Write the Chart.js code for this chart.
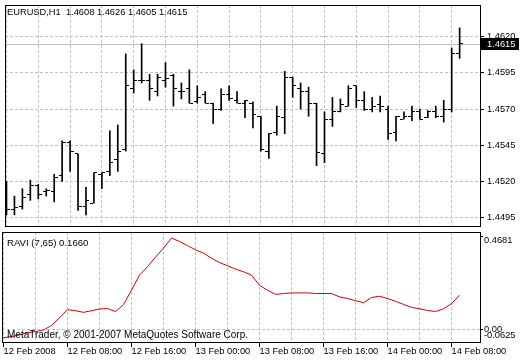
<!DOCTYPE html>
<html>
<head>
<meta charset="utf-8">
<script src="https://cdn.jsdelivr.net/npm/chart.js@4.4.1/dist/chart.umd.min.js"></script>
<style>
  html, body { margin: 0; padding: 0; background: #fff; }
  #wrap { position: relative; width: 520px; height: 360px; background: #fff; }
  canvas { position: absolute; left: 0; }
  #priceChart { top: 0; }
  #raviChart { top: 232px; }
</style>
</head>
<body>
<div id="wrap">
  <canvas id="priceChart" width="520" height="232"></canvas>
  <canvas id="raviChart" width="520" height="128"></canvas>
</div>
<script>
// EURUSD H1 bars, 12 Feb 2008 00:00 .. 14 Feb 2008 09:00
const symbol = 'EURUSD,H1';
const opens = [
  1.4510, 1.4501, 1.4503, 1.4511, 1.4517, 1.4513, 1.4513, 1.4524, 1.4547, 1.4539,
  1.4503, 1.4505, 1.4525, 1.4527, 1.4535, 1.4542, 1.4584, 1.4590, 1.4590, 1.4582,
  1.4590, 1.4593, 1.4582, 1.4584, 1.4575, 1.4580, 1.4574, 1.4570, 1.4580, 1.4576,
  1.4574, 1.4574, 1.4565, 1.4541, 1.4554, 1.4564, 1.4592, 1.4584, 1.4582, 1.4574,
  1.4539, 1.4563, 1.4568, 1.4572, 1.4586, 1.4576, 1.4570, 1.4573, 1.4570, 1.4554,
  1.4563, 1.4565, 1.4568, 1.4564, 1.4568, 1.4565, 1.4570, 1.4608
];
const highs = [
  1.4520, 1.4510, 1.4515, 1.4521, 1.4518, 1.4515, 1.4525, 1.4548, 1.4548, 1.4539,
  1.4516, 1.4526, 1.4526, 1.4555, 1.4559, 1.4608, 1.4597, 1.4615, 1.4594, 1.4594,
  1.4602, 1.4594, 1.4588, 1.4597, 1.4586, 1.4582, 1.4574, 1.4584, 1.4586, 1.4582,
  1.4576, 1.4575, 1.4565, 1.4553, 1.4572, 1.4596, 1.4592, 1.4588, 1.4585, 1.4574,
  1.4568, 1.4578, 1.4577, 1.4586, 1.4586, 1.4582, 1.4578, 1.4579, 1.4572, 1.4565,
  1.4568, 1.4572, 1.4570, 1.4569, 1.4572, 1.4576, 1.4612, 1.4626
];
const lows = [
  1.4497, 1.4497, 1.4501, 1.4507, 1.4508, 1.4510, 1.4506, 1.4520, 1.4527, 1.4500,
  1.4497, 1.4505, 1.4515, 1.4524, 1.4527, 1.4541, 1.4581, 1.4588, 1.4576, 1.4579,
  1.4585, 1.4572, 1.4577, 1.4574, 1.4574, 1.4574, 1.4560, 1.4569, 1.4576, 1.4574,
  1.4564, 1.4557, 1.4541, 1.4536, 1.4552, 1.4553, 1.4578, 1.4570, 1.4565, 1.4531,
  1.4533, 1.4558, 1.4568, 1.4572, 1.4571, 1.4569, 1.4568, 1.4568, 1.4549, 1.4548,
  1.4563, 1.4562, 1.4563, 1.4564, 1.4564, 1.4561, 1.4568, 1.4605
];
const closes = [
  1.4501, 1.4502, 1.4509, 1.4517, 1.4511, 1.4514, 1.4523, 1.4547, 1.4541, 1.4503,
  1.4507, 1.4526, 1.4526, 1.4533, 1.4541, 1.4586, 1.4590, 1.4590, 1.4584, 1.4592,
  1.4591, 1.4584, 1.4582, 1.4574, 1.4578, 1.4574, 1.4570, 1.4580, 1.4577, 1.4574,
  1.4576, 1.4566, 1.4542, 1.4553, 1.4565, 1.4592, 1.4586, 1.4582, 1.4574, 1.4540,
  1.4563, 1.4568, 1.4573, 1.4584, 1.4576, 1.4570, 1.4572, 1.4572, 1.4553, 1.4565,
  1.4565, 1.4568, 1.4563, 1.4568, 1.4565, 1.4570, 1.4608, 1.4615
];
// RAVI (7,65) indicator values per bar
const ravi = [
  -0.037, -0.032, -0.024, -0.014, -0.008, 0.000, 0.021, 0.058, 0.097, 0.092,
  0.084, 0.092, 0.100, 0.102, 0.088, 0.121, 0.190, 0.262, 0.302, 0.348,
  0.391, 0.439, 0.423, 0.403, 0.383, 0.367, 0.343, 0.322, 0.307, 0.291,
  0.278, 0.262, 0.213, 0.190, 0.170, 0.174, 0.177, 0.177, 0.177, 0.174,
  0.174, 0.174, 0.158, 0.150, 0.140, 0.130, 0.155, 0.161, 0.150, 0.137,
  0.122, 0.108, 0.101, 0.093, 0.088, 0.101, 0.126, 0.166
];

const priceTicks = [1.4495, 1.4520, 1.4545, 1.4570, 1.4595, 1.4620];
const raviTicks = [0];
const raviRange = [-0.0625, 0.4681];
const gridBars = [0, 4, 8, 12, 16, 20, 24, 28, 32, 36, 40, 44, 48, 52, 56];
const timeLabels = ['12 Feb 2008', '12 Feb 08:00', '12 Feb 16:00', '13 Feb 00:00',
                    '13 Feb 08:00', '13 Feb 16:00', '14 Feb 00:00', '14 Feb 08:00'];
const copyright = 'MetaTrader, \u00a9 2001-2007 MetaQuotes Software Corp.';

const FONT = 'Liberation Sans';
const FONT_SIZE = 9.3;
const GRID = '#c0c0c0';
const last = closes.length - 1;
const idx = closes.map((_, i) => i);

// x range: 8 px per bar, bar 0 one pixel inside the left frame
const xMin = -0.1875;
const xMax = 59.6875;

Chart.defaults.font.family = FONT;
Chart.defaults.font.size = FONT_SIZE;
Chart.defaults.color = '#000';

// 3x1 black dash used as the open / close tick of each bar
const tickMark = document.createElement('canvas');
tickMark.width = 3;
tickMark.height = 1;
tickMark.getContext('2d').fillRect(0, 0, 3, 1);

// black frame round the plot area
const frameBox = {
  id: 'frameBox',
  afterDraw(chart) {
    const { ctx, chartArea: a } = chart;
    ctx.save();
    ctx.strokeStyle = '#000';
    ctx.lineWidth = 1;
    ctx.strokeRect(a.left + 0.5, a.top + 0.5, a.right - a.left - 1, a.bottom - a.top - 1);
    ctx.restore();
  }
};

const priceDecor = {
  id: 'priceDecor',
  beforeDatasetsDraw(chart) {
    const { ctx, chartArea: a } = chart;
    // keep the tick images sharp
    ctx.imageSmoothingEnabled = false;
    // current price line
    const y = Math.round(chart.scales.y.getPixelForValue(closes[last])) + 0.5;
    ctx.save();
    ctx.strokeStyle = GRID;
    ctx.lineWidth = 1;
    ctx.beginPath();
    ctx.moveTo(a.left, y);
    ctx.lineTo(a.right, y);
    ctx.stroke();
    ctx.restore();
  },
  afterDraw(chart) {
    const { ctx, chartArea: a } = chart;
    ctx.save();
    ctx.font = `${FONT_SIZE}px "${FONT}"`;
    ctx.fillStyle = '#000';
    ctx.textBaseline = 'alphabetic';
    const head = `${symbol}  ${opens[last].toFixed(4)} ${highs[last].toFixed(4)} ${lows[last].toFixed(4)} ${closes[last].toFixed(4)}`;
    ctx.fillText(head, 7, 15);

    // last price marker on the axis
    const y = Math.round(chart.scales.y.getPixelForValue(closes[last]));
    ctx.fillStyle = '#000';
    ctx.fillRect(a.right, y - 6, 38, 12);
    ctx.fillStyle = '#fff';
    ctx.textBaseline = 'middle';
    ctx.fillText(closes[last].toFixed(4), a.right + 6, y + 0.5);
    ctx.restore();
  }
};

const raviDecor = {
  id: 'raviDecor',
  afterDatasetsDraw(chart) {
    const { ctx, chartArea: a } = chart;
    const ys = chart.scales.y;
    ctx.save();
    ctx.fillStyle = '#000';
    ctx.textBaseline = 'alphabetic';
    ctx.font = `9.6px "${FONT}"`;
    ctx.fillText(`RAVI (7,65) ${ravi[last].toFixed(4)}`, 7, a.top + 14);
    ctx.font = `10px "${FONT}"`;
    ctx.fillText(copyright, 7, a.bottom - 5);

    ctx.font = `${FONT_SIZE}px "${FONT}"`;
    ctx.textBaseline = 'middle';
    ctx.fillText(raviRange[1].toFixed(4), a.right + 3, ys.getPixelForValue(raviRange[1]) + 8);
    ctx.fillText(raviRange[0].toFixed(4), a.right + 3, ys.getPixelForValue(raviRange[0]) - 8);
    ctx.strokeStyle = '#000';
    ctx.lineWidth = 1;
    ctx.beginPath();
    ctx.moveTo(a.right, a.top + 4.5);
    ctx.lineTo(a.right + 2, a.top + 4.5);
    ctx.stroke();
    ctx.restore();
  }
};

const xGridScale = {
  type: 'linear',
  min: xMin,
  max: xMax,
  offset: false,
  afterBuildTicks: s => { s.ticks = gridBars.map(v => ({ value: v })); },
  grid: { color: GRID, lineWidth: 1, offset: false },
  border: { display: false, dash: [3, 2] }
};

new Chart(document.getElementById('priceChart'), {
  type: 'scatter',
  data: {
    datasets: [
      {
        type: 'bar',
        data: idx.map(i => ({ x: i, y: [lows[i], highs[i]] })),
        backgroundColor: '#000',
        borderWidth: 0,
        barThickness: 1
      },
      {
        type: 'scatter',
        data: idx.map(i => ({ x: i - 0.25, y: opens[i] })),
        pointStyle: tickMark,
        pointRadius: 1.5
      },
      {
        type: 'scatter',
        data: idx.map(i => ({ x: i + 0.25, y: closes[i] })),
        pointStyle: tickMark,
        pointRadius: 1.5
      }
    ]
  },
  options: {
    responsive: false,
    animation: false,
    devicePixelRatio: 1,
    events: [],
    layout: { padding: { left: 2, top: 2, right: 0, bottom: 1 } },
    plugins: { legend: { display: false }, tooltip: { enabled: false } },
    scales: {
      x: {
        ...xGridScale,
        afterFit: s => { s.height = 0; s.paddingLeft = 0; s.paddingRight = 0; },
        ticks: { display: false },
        grid: { ...xGridScale.grid, drawTicks: false }
      },
      y: {
        type: 'linear',
        position: 'right',
        min: 1.4488650,
        max: 1.4641725,
        afterBuildTicks: s => { s.ticks = priceTicks.map(v => ({ value: v })); },
        afterFit: s => { s.width = 39; s.paddingTop = 0; s.paddingBottom = 0; },
        ticks: { color: '#000', padding: 3, callback: v => v.toFixed(4) },
        grid: { color: GRID, tickColor: '#000', tickLength: 3, tickBorderDash: [] },
        border: { display: false, dash: [3, 2] }
      }
    }
  },
  plugins: [priceDecor, frameBox]
});

new Chart(document.getElementById('raviChart'), {
  type: 'line',
  data: {
    datasets: [{
      data: idx.map(i => ({ x: i, y: ravi[i] })),
      borderColor: '#d00000',
      borderWidth: 1,
      pointRadius: 0,
      tension: 0,
      fill: false
    }]
  },
  options: {
    responsive: false,
    animation: false,
    devicePixelRatio: 1,
    events: [],
    layout: { padding: { left: 2, top: 0, right: 0, bottom: 0 } },
    plugins: { legend: { display: false }, tooltip: { enabled: false } },
    scales: {
      x: {
        ...xGridScale,
        afterFit: s => { s.height = 17; s.paddingLeft = 0; s.paddingRight = 0; },
        ticks: {
          color: '#000',
          autoSkip: false,
          maxRotation: 0,
          minRotation: 0,
          align: 'start',
          padding: 0,
          font: { lineHeight: 1 },
          callback: v => (v % 8 === 0 ? timeLabels[v / 8] : '')
        },
        grid: {
          ...xGridScale.grid,
          tickLength: 4,
          tickBorderDash: [],
          tickColor: c => (c.tick && c.tick.value % 8 === 0 ? '#000' : 'rgba(0,0,0,0)')
        }
      },
      y: {
        type: 'linear',
        position: 'right',
        min: raviRange[0],
        max: raviRange[1],
        afterBuildTicks: s => { s.ticks = raviTicks.map(v => ({ value: v })); },
        afterFit: s => { s.width = 39; s.paddingTop = 0; s.paddingBottom = 0; },
        ticks: { color: '#000', padding: 1, callback: v => v.toFixed(2) },
        grid: { color: GRID, tickColor: '#000', tickLength: 2, tickBorderDash: [] },
        border: { display: false, dash: [3, 2] }
      }
    }
  },
  plugins: [raviDecor, frameBox]
});
</script>
</body>
</html>
